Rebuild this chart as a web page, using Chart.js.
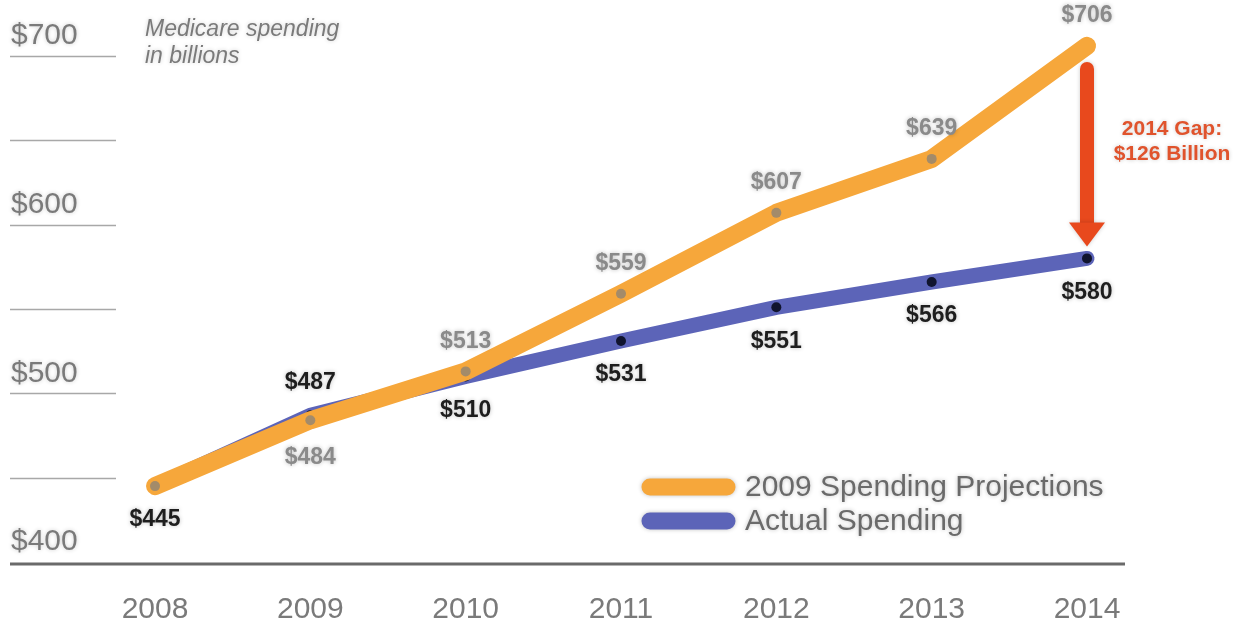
<!DOCTYPE html>
<html>
<head>
<meta charset="utf-8">
<script src="https://cdn.jsdelivr.net/npm/chart.js@4.4.0/dist/chart.umd.min.js"></script>
<style>
  body { margin: 0; background: #fff; }
  #wrap { width: 1241px; height: 621px; }
</style>
</head>
<body>
<div id="wrap"><canvas id="c" width="1241" height="621"></canvas></div>
<script>
// data
const years = ["2008", "2009", "2010", "2011", "2012", "2013", "2014"];
const projected = [445, 484, 513, 559, 607, 639, 706];
const actual = [445, 487, 510, 531, 551, 566, 580];
const yTicks = [400, 500, 600, 700];
const gridValues = [450, 500, 550, 600, 650, 700];
const seriesNames = ["2009 Spending Projections", "Actual Spending"];
const subtitle = ["Medicare spending", "in billions"];

const ORANGE = "#f6a73b";
const BLUE = "#5c64b8";
const RED = "#e8491d";
const FONT = "'Liberation Sans', Arial, sans-serif";

// gridlines, axis labels, data labels, arrow and legend
const decor = {
  id: "decor",
  beforeDatasetsDraw(chart) {
    const { ctx, scales: { x, y } } = chart;
    ctx.save();
    // short lines under the y labels
    ctx.strokeStyle = "#a8a8a8";
    ctx.lineWidth = 1.5;
    gridValues.forEach(v => {
      const py = Math.round(y.getPixelForValue(v)) + 0.5;
      ctx.beginPath();
      ctx.moveTo(10, py);
      ctx.lineTo(116, py);
      ctx.stroke();
    });
    // baseline
    const by = y.getPixelForValue(yTicks[0]) + 2;
    ctx.strokeStyle = "#6a6a6a";
    ctx.lineWidth = 3;
    ctx.beginPath();
    ctx.moveTo(10, by);
    ctx.lineTo(1125, by);
    ctx.stroke();

    ctx.shadowColor = "rgba(0,0,0,0.2)";
    ctx.shadowBlur = 4;
    ctx.fillStyle = "#7a7a7a";
    ctx.font = "30px " + FONT;
    ctx.textAlign = "left";
    ctx.textBaseline = "middle";
    yTicks.forEach(v => {
      ctx.fillText("$" + v, 11, y.getPixelForValue(v) - 20);
    });
    // subtitle
    ctx.font = "italic 23px " + FONT;
    ctx.fillStyle = "#7a7a7a";
    subtitle.forEach((s, i) => ctx.fillText(s, 145, 30 + i * 27));
    ctx.restore();
  },
  afterDatasetsDraw(chart) {
    const { ctx, scales: { x, y } } = chart;
    ctx.save();
    ctx.shadowColor = "rgba(0,0,0,0.25)";
    ctx.shadowBlur = 4;
    ctx.textAlign = "center";
    ctx.textBaseline = "middle";
    ctx.font = "bold 23px " + FONT;
    years.forEach((yr, i) => {
      const px = x.getPixelForValue(i);
      const pp = y.getPixelForValue(projected[i]);
      const pa = y.getPixelForValue(actual[i]);
      // actual label below unless it is above the projection
      ctx.fillStyle = "#1e1e1e";
      if (actual[i] > projected[i]) ctx.fillText("$" + actual[i], px, pa - 33);
      else ctx.fillText("$" + actual[i], px, pa + 34);
      if (projected[i] === actual[i]) return;
      ctx.fillStyle = "#8a8a8a";
      if (projected[i] >= actual[i]) ctx.fillText("$" + projected[i], px, pp - 30);
      else ctx.fillText("$" + projected[i], px, pp + 37);
    });

    // gap arrow at the last year
    const li = years.length - 1;
    const ax = x.getPixelForValue(li);
    const top = y.getPixelForValue(projected[li]) + 23;
    const tip = y.getPixelForValue(actual[li]) - 12;
    ctx.shadowColor = "rgba(0,0,0,0.2)";
    ctx.strokeStyle = RED;
    ctx.fillStyle = RED;
    ctx.lineWidth = 14;
    ctx.lineCap = "round";
    ctx.beginPath();
    ctx.moveTo(ax, top);
    ctx.lineTo(ax, tip - 20);
    ctx.stroke();
    ctx.beginPath();
    ctx.moveTo(ax - 18, tip - 24);
    ctx.lineTo(ax + 18, tip - 24);
    ctx.lineTo(ax, tip);
    ctx.closePath();
    ctx.fill();
    const gap = projected[li] - actual[li];
    ctx.fillStyle = "#e0532c";
    ctx.font = "bold 21px " + FONT;
    ctx.fillText(years[li] + " Gap:", 1172, 129);
    ctx.fillText("$" + gap + " Billion", 1172, 154);

    // legend
    const colors = [ORANGE, BLUE];
    ctx.font = "30px " + FONT;
    ctx.textAlign = "left";
    seriesNames.forEach((name, i) => {
      const ly = 487 + i * 34;
      ctx.shadowColor = "rgba(0,0,0,0.25)";
      ctx.strokeStyle = colors[i];
      ctx.lineWidth = 17;
      ctx.beginPath();
      ctx.moveTo(650, ly);
      ctx.lineTo(727, ly);
      ctx.stroke();
      ctx.fillStyle = "#6a6a6a";
      ctx.fillText(name, 745, ly + 1);
    });
    ctx.restore();
  }
};

new Chart(document.getElementById("c"), {
  type: "line",
  data: {
    labels: years,
    datasets: [
      {
        label: seriesNames[0],
        data: projected,
        borderColor: ORANGE,
        borderWidth: 18,
        borderCapStyle: "round",
        borderJoinStyle: "round",
        pointRadius: 5,
        pointBorderWidth: 0,
        pointBackgroundColor: "#a38b6a",
        tension: 0,
        clip: false
      },
      {
        label: seriesNames[1],
        data: actual,
        borderColor: BLUE,
        borderWidth: 15,
        borderCapStyle: "round",
        borderJoinStyle: "round",
        pointRadius: 5,
        pointBorderWidth: 0,
        pointBackgroundColor: "#10142e",
        tension: 0,
        clip: false
      }
    ]
  },
  options: {
    responsive: false,
    animation: false,
    layout: { padding: { left: 155, right: 154, top: 56, bottom: 3 } },
    plugins: { legend: { display: false }, tooltip: { enabled: false } },
    scales: {
      x: {
        grid: { display: false },
        border: { display: false },
        afterFit: s => { s.height = 56; },
        ticks: {
          color: "#7a7a7a",
          padding: 25,
          font: { family: FONT, size: 30, lineHeight: 1 }
        }
      },
      y: {
        display: false,
        min: yTicks[0],
        max: yTicks[yTicks.length - 1]
      }
    }
  },
  plugins: [decor]
});
</script>
</body>
</html>
